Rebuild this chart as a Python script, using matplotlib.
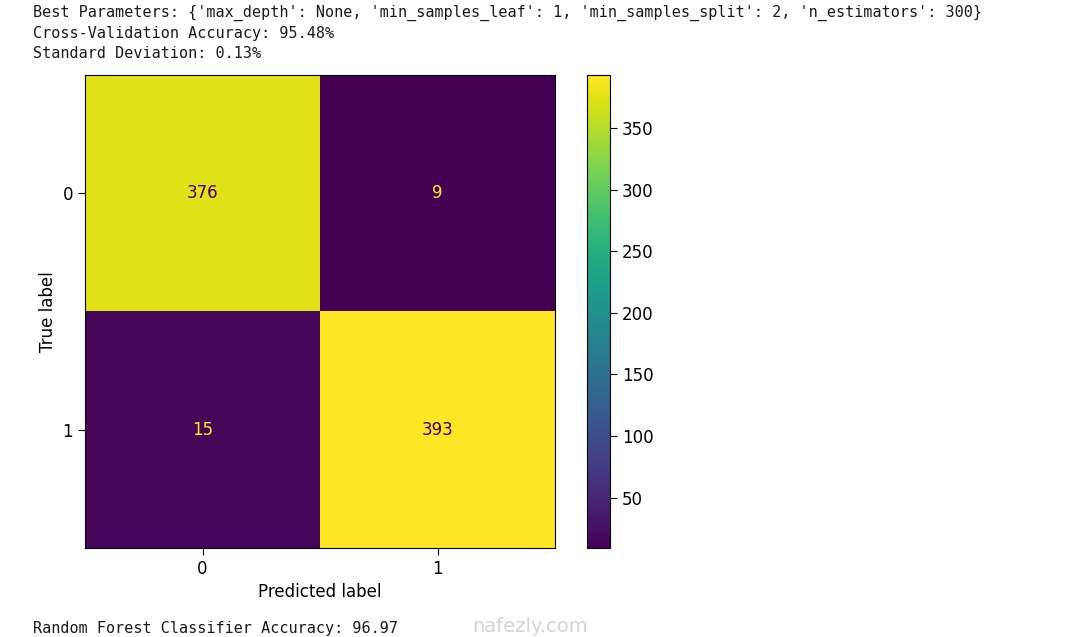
import numpy as np
import matplotlib
matplotlib.use("Agg")
from matplotlib import pyplot as plt

# confusion matrix values
labels = ["0", "1"]
cm = np.array([[376, 9],
               [15, 393]])
cbar_ticks = [50, 100, 150, 200, 250, 300, 350]

header_lines = [
    "Best Parameters: {'max_depth': None, 'min_samples_leaf': 1, 'min_samples_split': 2, 'n_estimators': 300}",
    "Cross-Validation Accuracy: 95.48%",
    "Standard Deviation: 0.13%",
]
footer_line = "Random Forest Classifier Accuracy: 96.97"

plt.rcParams['font.size'] = 12
fig = plt.figure(figsize=(10.67, 6.37), dpi=100)

ax = fig.add_axes([0.0797, 0.1397, 0.4405, 0.7425])
cax = fig.add_axes([0.5501, 0.1397, 0.0216, 0.7425])

cmap = plt.get_cmap('viridis')
im = ax.imshow(cm, cmap=cmap, interpolation='nearest', aspect='auto',
               vmin=cm.min(), vmax=cm.max())

thresh = (cm.max() + cm.min()) / 2.0
for i in range(cm.shape[0]):
    for j in range(cm.shape[1]):
        color = cmap(0.0) if cm[i, j] > thresh else cmap(1.0)
        ax.text(j, i, str(cm[i, j]), ha='center', va='center', color=color, fontsize=12)

ax.set_xticks(range(len(labels)))
ax.set_xticklabels(labels)
ax.set_yticks(range(len(labels)))
ax.set_yticklabels(labels)
ax.set_xlabel("Predicted label", fontsize=12)
ax.set_ylabel("True label", fontsize=12)
ax.tick_params(labelsize=12, length=5)

cb = fig.colorbar(im, cax=cax)
cb.set_ticks(cbar_ticks)
cb.ax.tick_params(labelsize=12, length=5)

# notebook output text
mono = 'DejaVu Sans Mono'
for k, line in enumerate(header_lines):
    fig.text(33 / 1067, 1 - (13 + 20.5 * k) / 637, line, family=mono, fontsize=10.9,
             ha='left', va='center', color='#1a1a1a')
fig.text(33 / 1067, 1 - 628 / 637, footer_line, family=mono, fontsize=10.9,
         ha='left', va='center', color='#1a1a1a')

# watermark
fig.text(530 / 1067, 1 - 626 / 637, "nafezly.com", fontsize=14, color='#d4d4d4',
         ha='center', va='center')

fig.savefig("out.png", dpi=100)
